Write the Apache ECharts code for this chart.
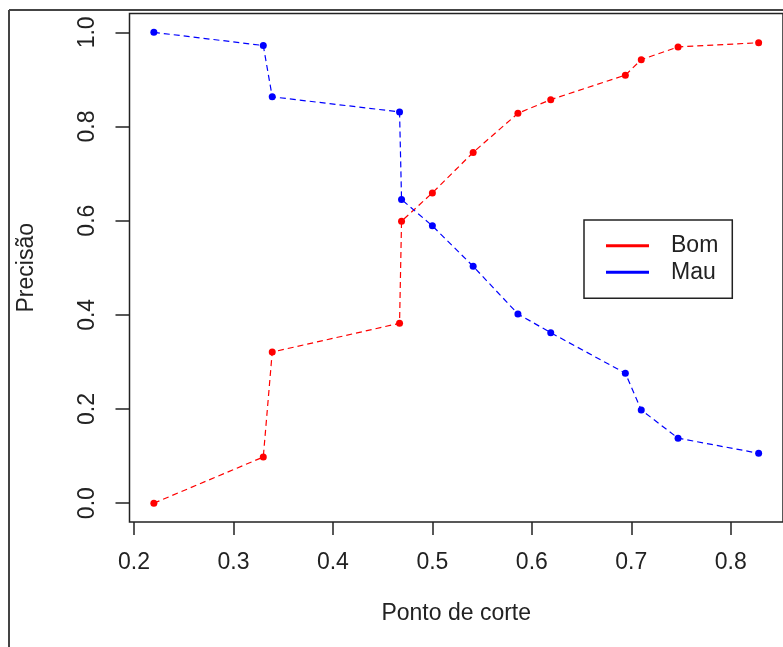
<!DOCTYPE html>
<html>
<head>
<meta charset="utf-8">
<script src="https://cdn.jsdelivr.net/npm/echarts@6/dist/echarts.min.js"></script>
<style>
html,body{margin:0;padding:0;background:#fff;}
#chart{width:783px;height:647px;}
</style>
</head>
<body>
<div id="chart"></div>
<script>
const cutoffs = [0.22, 0.33, 0.339, 0.467, 0.469, 0.50, 0.541, 0.586, 0.619, 0.694, 0.710, 0.747, 0.828];
const bom = [0.0, 0.098, 0.321, 0.382, 0.599, 0.659, 0.745, 0.828, 0.857, 0.909, 0.942, 0.969, 0.978];
const mau = [1.0, 0.972, 0.863, 0.831, 0.645, 0.589, 0.503, 0.402, 0.362, 0.276, 0.198, 0.138, 0.106];
const xTicks = [0.2, 0.3, 0.4, 0.5, 0.6, 0.7, 0.8];
const yTicks = [0.0, 0.2, 0.4, 0.6, 0.8, 1.0];
const seriesNames = ['Bom', 'Mau'];
const xTitle = 'Ponto de corte';
const yTitle = 'Precisão';

const FONT = 'Liberation Sans, Arial, Helvetica, sans-serif';
const TXT = '#222';
const FS = 23;

function pairs(xs, ys) { return xs.map((x, i) => [x, ys[i]]); }

const chart = echarts.init(document.getElementById('chart'), null, {renderer: 'canvas'});
chart.setOption({
  animation: false,
  backgroundColor: '#fff',
  textStyle: {fontFamily: FONT},
  grid: {
    left: 129.5, top: 13.5, width: 657, height: 508.5,
    show: true, borderColor: '#222', borderWidth: 1.5, backgroundColor: 'transparent'
  },
  xAxis: {
    type: 'value', min: 0.1955, max: 0.8525,
    name: xTitle, nameLocation: 'middle', nameGap: 80,
    nameTextStyle: {fontSize: FS, color: TXT, fontFamily: FONT},
    axisLine: {show: false, onZero: false},
    splitLine: {show: false},
    axisTick: {show: true, length: 13, lineStyle: {color: '#222', width: 1.5}, customValues: xTicks},
    axisLabel: {show: true, margin: 29, fontSize: FS, color: TXT, fontFamily: FONT,
      customValues: xTicks, formatter: v => Number(v).toFixed(1)}
  },
  yAxis: {
    type: 'value', min: -0.04, max: 1.04,
    name: yTitle, nameLocation: 'middle', nameGap: 91, nameRotate: 90,
    nameTextStyle: {fontSize: FS, color: TXT, fontFamily: FONT},
    axisLine: {show: false, onZero: false},
    splitLine: {show: false},
    axisTick: {show: true, length: 14, lineStyle: {color: '#222', width: 1.5}, customValues: yTicks},
    axisLabel: {show: true, margin: 30, rotate: 90, fontSize: FS, color: TXT, fontFamily: FONT,
      customValues: yTicks, formatter: v => Number(v).toFixed(1)}
  },
  legend: {
    orient: 'vertical', left: 584, top: 220,
    padding: [14.2, 14, 14.5, 22],
    itemGap: 3.6, itemWidth: 43, itemHeight: 3,
    borderColor: '#222', borderWidth: 1.5, backgroundColor: '#fff',
    textStyle: {fontSize: FS, color: TXT, fontFamily: FONT, padding: [0, 0, 0, 17], lineHeight: 23},
    data: [{name: seriesNames[0], icon: 'rect'}, {name: seriesNames[1], icon: 'rect'}]
  },
  series: [
    {
      name: seriesNames[0], type: 'line', data: pairs(cutoffs, bom),
      symbol: 'circle', symbolSize: 7, color: '#ff0000',
      lineStyle: {color: '#ff0000', width: 1.2, type: [6, 4]},
      itemStyle: {color: '#ff0000'}
    },
    {
      name: seriesNames[1], type: 'line', data: pairs(cutoffs, mau),
      symbol: 'circle', symbolSize: 7, color: '#0000ff',
      lineStyle: {color: '#0000ff', width: 1.2, type: [6, 4]},
      itemStyle: {color: '#0000ff'}
    }
  ],
  graphic: [
    {type: 'line', shape: {x1: 9, y1: 10, x2: 783, y2: 10}, style: {stroke: '#444', lineWidth: 2}, silent: true},
    {type: 'line', shape: {x1: 9, y1: 10, x2: 9, y2: 647}, style: {stroke: '#444', lineWidth: 2}, silent: true}
  ]
});
</script>
</body>
</html>
